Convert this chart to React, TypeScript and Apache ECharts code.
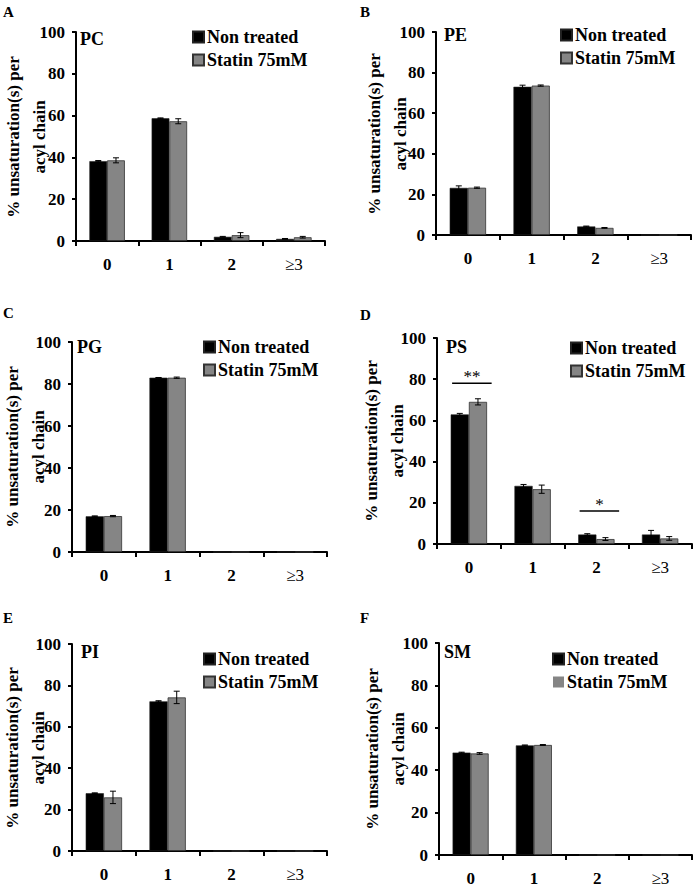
import React, { useEffect, useRef } from "react";
import * as echarts from "echarts";

const categories = ["0", "1", "2", "≥3"];
const seriesNames = ["Non treated", "Statin 75mM"];
const panelLetters = ["A", "B", "C", "D", "E", "F"];
const lipidNames = ["PC", "PE", "PG", "PS", "PI", "SM"];
const yAxisTitle = "% unsaturation(s) per\nacyl chain";
const yTicks = { min: 0, max: 100, interval: 20 };

// values per panel: [non treated], [statin]
const pcNon = [38.2, 58.7, 2.0, 1.0];
const pcStatin = [38.6, 57.3, 2.8, 1.8];
const pcNonErr = [0.3, 0.2, 0.2, 0.2];
const pcStatinErr = [1.2, 1.2, 1.2, 0.4];

const peNon = [23.2, 73.0, 4.2, 0];
const peStatin = [23.3, 73.6, 3.5, 0];
const peNonErr = [1.0, 0.8, 0.2, 0];
const peStatinErr = [0.3, 0.3, 0.2, 0];

const pgNon = [17.0, 83.0, 0, 0];
const pgStatin = [17.1, 83.0, 0, 0];
const pgNonErr = [0.2, 0.1, 0, 0];
const pgStatinErr = [0.3, 0.3, 0, 0];

const psNon = [62.9, 28.2, 4.6, 4.6];
const psStatin = [69.0, 26.6, 2.4, 2.7];
const psNonErr = [0.5, 0.7, 0.4, 2.0];
const psStatinErr = [1.5, 2.0, 0.7, 0.9];

const piNon = [27.9, 72.3, 0, 0];
const piStatin = [25.9, 74.2, 0, 0];
const piNonErr = [0.2, 0.3, 0, 0];
const piStatinErr = [3.0, 3.0, 0, 0];

const smNon = [48.3, 51.7, 0, 0];
const smStatin = [47.9, 51.9, 0, 0];
const smNonErr = [0.2, 0.2, 0, 0];
const smStatinErr = [0.4, 0.2, 0, 0];

// significance marks for PS panel: [category index, y level, label]
const psSignif: [number, number, string][] = [
  [0, 78, "**"],
  [2, 16, "*"],
];

const panels = [
  { non: pcNon, statin: pcStatin, nonErr: pcNonErr, statinErr: pcStatinErr },
  { non: peNon, statin: peStatin, nonErr: peNonErr, statinErr: peStatinErr },
  { non: pgNon, statin: pgStatin, nonErr: pgNonErr, statinErr: pgStatinErr },
  { non: psNon, statin: psStatin, nonErr: psNonErr, statinErr: psStatinErr },
  { non: piNon, statin: piStatin, nonErr: piNonErr, statinErr: piStatinErr },
  { non: smNon, statin: smStatin, nonErr: smNonErr, statinErr: smStatinErr },
];

// layout
const grids = [
  { left: 76, top: 32, width: 249, height: 209 },
  { left: 436, top: 32, width: 255, height: 203 },
  { left: 72, top: 342, width: 255, height: 210 },
  { left: 437, top: 338, width: 255, height: 206 },
  { left: 72, top: 644, width: 255, height: 207 },
  { left: 439, top: 643, width: 253, height: 212 },
];
const yTitlePos = [
  { x: 26, y: 137 },
  { x: 387, y: 134 },
  { x: 25, y: 447 },
  { x: 384, y: 441 },
  { x: 25, y: 748 },
  { x: 385, y: 749 },
];
const legendPos = [
  { left: 192, top: 28 },
  { left: 560, top: 26 },
  { left: 203, top: 338 },
  { left: 570, top: 339 },
  { left: 203, top: 650 },
  { left: 552, top: 650 },
];
const letterPos = [
  { left: 3, top: 4 },
  { left: 360, top: 4 },
  { left: 3, top: 305 },
  { left: 360, top: 307 },
  { left: 3, top: 610 },
  { left: 360, top: 610 },
];
const lipidPos = [
  { left: 80, top: 30 },
  { left: 444, top: 26 },
  { left: 77, top: 338 },
  { left: 446, top: 338 },
  { left: 81, top: 643 },
  { left: 444, top: 643 },
];

const GAP = 0.43;
const FONT = "Liberation Serif";
const BLACK = "#000000";
const GREY = "#858585";

function errRender(side: number) {
  return (params: any, api: any) => {
    const cat = api.value(0);
    const v = api.value(1);
    const e = api.value(2);
    if (!e) return null;
    const c = api.coord([cat, v]);
    const band = api.size([1, 0])[0];
    const bw = (band * (1 - GAP)) / 2;
    const x = c[0] + (side * bw) / 2;
    const yt = api.coord([cat, v + e])[1];
    const yb = api.coord([cat, Math.max(0, v - e)])[1];
    const cap = 3;
    const st = { stroke: "#000", lineWidth: 1 };
    return {
      type: "group",
      children: [
        { type: "line", shape: { x1: x, y1: yt, x2: x, y2: yb }, style: st },
        { type: "line", shape: { x1: x - cap, y1: yt, x2: x + cap, y2: yt }, style: st },
        { type: "line", shape: { x1: x - cap, y1: yb, x2: x + cap, y2: yb }, style: st },
      ],
    };
  };
}

function signifRender(params: any, api: any) {
  const cat = api.value(0);
  const v = api.value(1);
  const label = psSignif[params.dataIndex][2];
  const c = api.coord([cat, v]);
  const band = api.size([1, 0])[0];
  const half = band * 0.31;
  const cx = c[0] + 3;
  return {
    type: "group",
    children: [
      {
        type: "line",
        shape: { x1: cx - half, y1: c[1], x2: cx + half, y2: c[1] },
        style: { stroke: "#000", lineWidth: 1.5 },
      },
      {
        type: "text",
        x: cx,
        y: c[1] + 2,
        style: {
          text: label,
          align: "center",
          verticalAlign: "bottom",
          fontSize: 17,
          fontFamily: FONT,
          fill: "#000000",
        },
      },
    ],
  };
}

export default function App() {
  const ref = useRef<HTMLDivElement>(null);
  useEffect(() => {
    if (!ref.current) return;
    const chart = echarts.init(ref.current, null, { renderer: "svg" });
    const series: any[] = [];
    panels.forEach((p, i) => {
      series.push({
        type: "bar",
        name: seriesNames[0],
        xAxisIndex: i,
        yAxisIndex: i,
        data: p.non,
        barGap: "0%",
        barCategoryGap: `${GAP * 100}%`,
        itemStyle: { color: BLACK, borderColor: "#222", borderWidth: 0.6 },
      });
      series.push({
        type: "bar",
        name: seriesNames[1],
        xAxisIndex: i,
        yAxisIndex: i,
        data: p.statin,
        barGap: "0%",
        barCategoryGap: `${GAP * 100}%`,
        itemStyle: { color: GREY, borderColor: "#333", borderWidth: 0.8 },
      });
      series.push({
        type: "custom",
        xAxisIndex: i,
        yAxisIndex: i,
        renderItem: errRender(-1),
        data: p.non.map((v, k) => [k, v, p.nonErr[k]]),
        itemStyle: { color: "#000" },
        z: 5,
        silent: true,
      });
      series.push({
        type: "custom",
        xAxisIndex: i,
        yAxisIndex: i,
        renderItem: errRender(1),
        data: p.statin.map((v, k) => [k, v, p.statinErr[k]]),
        itemStyle: { color: "#000" },
        z: 5,
        silent: true,
      });
    });
    series.push({
      type: "custom",
      xAxisIndex: 3,
      yAxisIndex: 3,
      renderItem: signifRender,
      data: psSignif.map((s) => [s[0], s[1]]),
      itemStyle: { color: "#000" },
      z: 6,
      silent: true,
    });

    const option: any = {
      animation: false,
      backgroundColor: "#ffffff",
      color: ["#000000", GREY],
      textStyle: { fontFamily: FONT },
      title: [
        ...panelLetters.map((t, i) => ({
          text: t,
          left: letterPos[i].left,
          top: letterPos[i].top,
          padding: 0,
          textStyle: { fontFamily: FONT, fontSize: 15, fontWeight: "bold", color: "#000" },
        })),
        ...lipidNames.map((t, i) => ({
          text: t,
          left: lipidPos[i].left,
          top: lipidPos[i].top,
          padding: 0,
          textStyle: { fontFamily: FONT, fontSize: 18, fontWeight: "bold", color: "#000" },
        })),
      ],
      graphic: yTitlePos.map((p) => ({
        type: "text",
        x: p.x,
        y: p.y,
        rotation: Math.PI / 2,
        silent: true,
        style: {
          text: yAxisTitle,
          align: "center",
          verticalAlign: "middle",
          fontFamily: FONT,
          fontSize: 17,
          fontWeight: "bold",
          lineHeight: 26,
          fill: "#000",
        },
      })),
      legend: legendPos.map((pos, i) => ({
        left: pos.left,
        top: pos.top,
        orient: "vertical",
        padding: 0,
        itemGap: 5,
        itemWidth: 11,
        itemHeight: 11,
        icon: "rect",
        selectedMode: false,
        data:
          i === 5
            ? [seriesNames[0], { name: seriesNames[1], itemStyle: { borderWidth: 0 } }]
            : seriesNames,
        textStyle: { fontFamily: FONT, fontSize: 18, fontWeight: "bold", color: "#000", padding: [0, 0, 0, -2] },
      })),
      grid: grids.map((g) => ({ ...g, containLabel: false, outerBoundsMode: "none" })),
      xAxis: grids.map((_, i) => ({
        type: "category",
        gridIndex: i,
        data: categories,
        axisLine: { lineStyle: { color: "#000", width: 2 } },
        axisTick: { show: true, length: 5, lineStyle: { color: "#000", width: 2 } },
        axisLabel: {
          interval: 0,
          margin: 15,
          fontFamily: FONT,
          fontSize: 17,
          color: "#000",
          formatter: (v: string) => (v === "≥3" ? `{n|${v}}` : `{b|${v}}`),
          rich: {
            b: { fontFamily: FONT, fontSize: 17, fontWeight: "bold", color: "#000" },
            n: { fontFamily: FONT, fontSize: 17, fontWeight: "normal", color: "#000" },
          },
        },
        splitLine: { show: false },
      })),
      yAxis: grids.map((_, i) => ({
        type: "value",
        gridIndex: i,
        min: yTicks.min,
        max: yTicks.max,
        interval: yTicks.interval,
        axisLine: { show: true, lineStyle: { color: "#000", width: 2 } },
        axisTick: { show: true, length: 4, lineStyle: { color: "#000", width: 2 } },
        axisLabel: { margin: 11, fontFamily: FONT, fontSize: 17, fontWeight: "bold", color: "#000" },
        splitLine: { show: false },
      })),
      series,
    };
    chart.setOption(option);
    return () => chart.dispose();
  }, []);
  return (
    <div
      ref={ref}
      style={{ position: "absolute", left: 0, top: 0, width: 694, height: 889, background: "#fff" }}
    />
  );
}
